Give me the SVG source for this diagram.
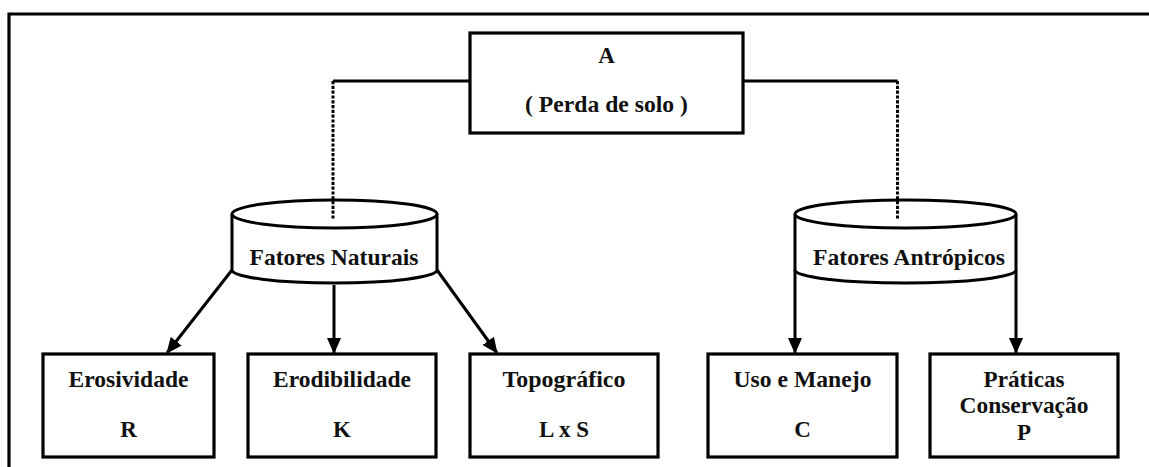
<svg xmlns="http://www.w3.org/2000/svg" width="1149" height="467" viewBox="0 0 1149 467">
<style>
.box{fill:#fff;stroke:#000;stroke-width:3.2}
.cyl{fill:#fff;stroke:#000;stroke-width:3}
.t{font-weight:700;font-size:23px;fill:#111;text-anchor:middle}
.ln{fill:none;stroke:#000;stroke-width:3}
.dash{fill:none;stroke:#000;stroke-width:3;stroke-dasharray:3.2 1.6}
</style>
<defs>
<marker id="ah" markerUnits="userSpaceOnUse" markerWidth="16" markerHeight="14" refX="15" refY="7" orient="auto">
<path d="M0,0 L16,7 L0,14 Z" fill="#000"/>
</marker>
</defs>
<rect x="0" y="0" width="1149" height="467" fill="#fff"/>
<g id="frame"><path d="M9,467 L9,14 L1149,14" fill="none" stroke="#000" stroke-width="3.2"/></g>

<g font-family="Liberation Serif, Times New Roman, serif">
<g id="node-A">
<rect class="box" x="470" y="33" width="273" height="100"/>
<text class="t" x="606.5" y="63">A</text>
<text class="t" x="606.5" y="112" textLength="163" lengthAdjust="spacingAndGlyphs">( Perda de solo )</text>
</g>

<g id="node-naturais">
<path class="cyl" d="M232,214 L232,270 A102.5,13 0 0 0 437,270 L437,214"/>
<ellipse class="cyl" cx="334.5" cy="214" rx="102.5" ry="14"/>
<text class="t" x="334" y="265" textLength="169" lengthAdjust="spacingAndGlyphs">Fatores Naturais</text>
</g>

<g id="node-antropicos">
<path class="cyl" d="M795,214 L795,270 A110.5,13 0 0 0 1016,270 L1016,214"/>
<ellipse class="cyl" cx="905.5" cy="214" rx="110.5" ry="14"/>
<text class="t" x="909" y="265" textLength="192" lengthAdjust="spacingAndGlyphs">Fatores Antrópicos</text>
</g>

<g id="node-R">
<rect class="box" x="43" y="354" width="171" height="103"/>
<text class="t" x="128.5" y="387" textLength="120" lengthAdjust="spacingAndGlyphs">Erosividade</text>
<text class="t" x="128.5" y="437">R</text>
</g>

<g id="node-K">
<rect class="box" x="248" y="354" width="188" height="103"/>
<text class="t" x="342" y="387" textLength="138" lengthAdjust="spacingAndGlyphs">Erodibilidade</text>
<text class="t" x="342" y="437">K</text>
</g>

<g id="node-LS">
<rect class="box" x="470" y="354" width="188" height="103"/>
<text class="t" x="564" y="387" textLength="123" lengthAdjust="spacingAndGlyphs">Topográfico</text>
<text class="t" x="564" y="437">L x S</text>
</g>

<g id="node-C">
<rect class="box" x="708" y="354" width="189" height="103"/>
<text class="t" x="802.5" y="387" textLength="138" lengthAdjust="spacingAndGlyphs">Uso e Manejo</text>
<text class="t" x="802.5" y="437">C</text>
</g>

<g id="node-P">
<rect class="box" x="930" y="354" width="188" height="103"/>
<text class="t" x="1024" y="387" textLength="81" lengthAdjust="spacingAndGlyphs">Práticas</text>
<text class="t" x="1024" y="413" textLength="129" lengthAdjust="spacingAndGlyphs">Conservação</text>
<text class="t" x="1024" y="440">P</text>
</g>
</g>

<g id="connectors">
<path class="ln" d="M470,81 L333,81"/>
<path class="dash" d="M333,81 L333,220"/>
<path class="ln" d="M743,81 L897.5,81"/>
<path class="dash" d="M897.5,81 L897.5,220"/>
<path class="ln" d="M232,270 L167,353" marker-end="url(#ah)"/>
<path class="ln" d="M334,285 L334,353" marker-end="url(#ah)"/>
<path class="ln" d="M437,270 L497,353" marker-end="url(#ah)"/>
<path class="ln" d="M795,270 L795,353" marker-end="url(#ah)"/>
<path class="ln" d="M1016,270 L1016,353" marker-end="url(#ah)"/>
</g>
</svg>
